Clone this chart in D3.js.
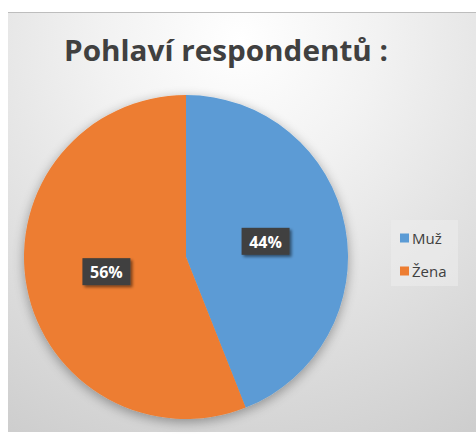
<!DOCTYPE html>
<html>
<head>
<meta charset="utf-8">
<script src="https://cdn.jsdelivr.net/npm/d3@7"></script>
<style>
body{margin:0;background:#fff;}
svg{display:block;}
</style>
</head>
<body>
<svg id="chart" width="476" height="434"></svg>
<script>
// data
var categories = ["Muž", "Žena"];
var values = [44, 56];
var colors = ["#5B9BD5", "#ED7D31"];

var svg = d3.select("#chart");
var defs = svg.append("defs");

var bg = defs.append("radialGradient").attr("id", "bg")
    .attr("gradientUnits", "userSpaceOnUse")
    .attr("cx", 240).attr("cy", 40).attr("r", 460);
bg.append("stop").attr("offset", "0%").attr("stop-color", "#ffffff");
bg.append("stop").attr("offset", "30%").attr("stop-color", "#f2f2f2");
bg.append("stop").attr("offset", "100%").attr("stop-color", "#cdcdcd");

var sh = defs.append("filter").attr("id", "shadow")
    .attr("x", "-20%").attr("y", "-20%").attr("width", "140%").attr("height", "140%");
sh.append("feGaussianBlur").attr("in", "SourceAlpha").attr("stdDeviation", 6).attr("result", "b");
sh.append("feOffset").attr("in", "b").attr("dx", 0).attr("dy", 3).attr("result", "o");
sh.append("feComponentTransfer").attr("in", "o").attr("result", "s")
  .append("feFuncA").attr("type", "linear").attr("slope", 0.35);
var m = sh.append("feMerge");
m.append("feMergeNode").attr("in", "s");
m.append("feMergeNode").attr("in", "SourceGraphic");

var lsh = defs.append("filter").attr("id", "lshadow")
    .attr("x", "-30%").attr("y", "-30%").attr("width", "160%").attr("height", "160%");
lsh.append("feGaussianBlur").attr("in", "SourceAlpha").attr("stdDeviation", 1.5).attr("result", "b");
lsh.append("feOffset").attr("in", "b").attr("dx", 2).attr("dy", 2).attr("result", "o");
lsh.append("feComponentTransfer").attr("in", "o").attr("result", "s")
  .append("feFuncA").attr("type", "linear").attr("slope", 0.5);
var m2 = lsh.append("feMerge");
m2.append("feMergeNode").attr("in", "s");
m2.append("feMergeNode").attr("in", "SourceGraphic");

// chart area
svg.append("rect").attr("x", 8).attr("y", 12).attr("width", 468).attr("height", 420)
    .attr("fill", "url(#bg)");
svg.append("line").attr("x1", 8).attr("x2", 476).attr("y1", 12.5).attr("y2", 12.5)
    .attr("stroke", "#bdbdbd").attr("stroke-width", 1);

svg.append("text").attr("x", 226).attr("y", 61)
    .attr("text-anchor", "middle")
    .style("font-family", "'Open Sans', sans-serif")
    .style("font-weight", "bold").style("font-size", "29px")
    .attr("fill", "#404040")
    .attr("textLength", 324).attr("lengthAdjust", "spacingAndGlyphs")
    .text("Pohlaví respondentů :");

var cx = 186, cy = 257, r = 162;
var pie = d3.pie().sort(null).value(function(d){ return d; });
var arc = d3.arc().innerRadius(0).outerRadius(r);
var arcs = pie(values);

var g = svg.append("g").attr("transform", "translate(" + cx + "," + cy + ")");
g.append("g").attr("filter", "url(#shadow)")
  .selectAll("path").data(arcs).enter().append("path")
    .attr("d", arc)
    .attr("fill", function(d, i){ return colors[i]; });

// data labels
var labelArc = d3.arc().innerRadius(r * 0.5).outerRadius(r * 0.5);
var lab = g.selectAll(".lab").data(arcs).enter().append("g")
    .attr("class", "lab")
    .attr("transform", function(d){
        var c = labelArc.centroid(d);
        return "translate(" + c[0] + "," + c[1] + ")";
    });
lab.append("rect").attr("x", -24).attr("y", -14).attr("width", 48).attr("height", 27)
    .attr("fill", "#404040").attr("filter", "url(#lshadow)");
lab.append("text").attr("text-anchor", "middle").attr("dy", 6)
    .style("font-family", "'Open Sans', sans-serif")
    .style("font-weight", "bold").style("font-size", "16px")
    .attr("fill", "#ffffff")
    .text(function(d){ return d.data + "%"; });

// legend
svg.append("rect").attr("x", 391).attr("y", 220).attr("width", 67).attr("height", 66)
    .attr("fill", "#ececec").attr("opacity", 0.6);
var y = d3.scalePoint().domain(categories).range([238, 271]);
var leg = svg.selectAll(".leg").data(categories).enter().append("g")
    .attr("class", "leg")
    .attr("transform", function(d){ return "translate(400," + y(d) + ")"; });
leg.append("rect").attr("x", 0).attr("y", -4.5).attr("width", 9).attr("height", 9)
    .attr("fill", function(d, i){ return colors[i]; });
leg.append("text").attr("x", 12).attr("dy", 5.5)
    .style("font-family", "'Open Sans', sans-serif").style("font-size", "15px")
    .attr("fill", "#404040")
    .text(function(d){ return d; });
</script>
</body>
</html>
